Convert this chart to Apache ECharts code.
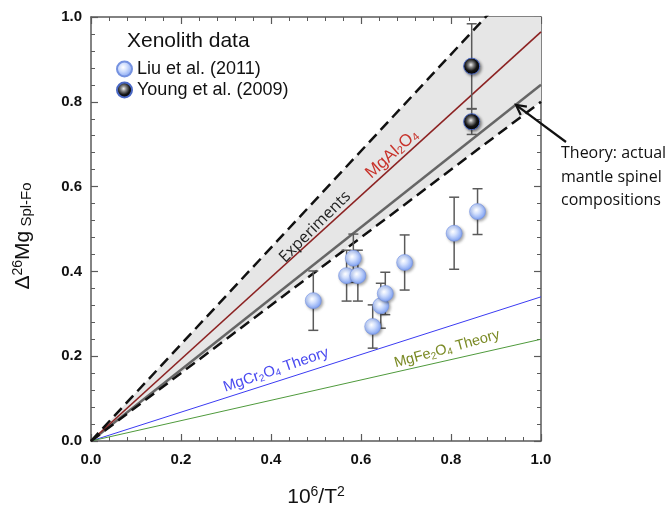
<!DOCTYPE html>
<html>
<head>
<meta charset="utf-8">
<script src="https://cdn.jsdelivr.net/npm/echarts@6/dist/echarts.min.js"></script>
<style>
html,body{margin:0;padding:0;background:#fff;}
#c{width:671px;height:513px;}
</style>
</head>
<body>
<div id="c"></div>
<script>
// ---- data ----
var lineX = [0, 1];
var upperDashed = [0, 1.14];
var lowerDashed = [0, 0.80];
var mgAl2O4 = [0, 0.965];
var mantleTheory = [0, 0.84];
var mgCr2O4 = [0, 0.34];
var mgFe2O4 = [0, 0.24];

var liuX = [0.494, 0.568, 0.583, 0.593, 0.626, 0.644, 0.654, 0.697, 0.807, 0.859];
var liuY = [0.331, 0.390, 0.431, 0.390, 0.270, 0.319, 0.348, 0.421, 0.490, 0.541];
var liuErr = [0.070, 0.060, 0.057, 0.060, 0.051, 0.053, 0.050, 0.065, 0.085, 0.054];

var youngX = [0.846, 0.846];
var youngY = [0.884, 0.753];
var youngErr = [0.10, 0.03];

var xTickLabels = ['0.0', '0.2', '0.4', '0.6', '0.8', '1.0'];
var yTickLabels = ['0.0', '0.2', '0.4', '0.6', '0.8', '1.0'];

// ---- helpers ----
function pairs(xs, ys) { return xs.map(function (x, i) { return [x, ys[i]]; }); }
function triples(xs, ys, es) { return xs.map(function (x, i) { return [x, ys[i], es[i]]; }); }

var chart = echarts.init(document.getElementById('c'), null, { renderer: 'canvas' });

var axisCol = '#5a5a5a';
function tickFmt(labels) {
  return function (v) { var i = Math.round(v / 0.2); return labels[i] !== undefined ? labels[i] : ''; };
}
function baseAxis(extra) {
  var a = {
    type: 'value', min: 0, max: 1, interval: 0.2,
    axisLine: { show: true, onZero: false, lineStyle: { color: axisCol, width: 1.5 } },
    axisTick: { show: true, inside: true, length: 7, lineStyle: { color: axisCol, width: 1.2 } },
    minorTick: { show: true, splitNumber: 5, length: 4, lineStyle: { color: axisCol, width: 1 } },
    splitLine: { show: false },
    minorSplitLine: { show: false }
  };
  for (var k in extra) a[k] = extra[k];
  return a;
}

var blueGrad = {
  type: 'radial', x: 0.42, y: 0.4, r: 0.62,
  colorStops: [
    { offset: 0, color: '#ffffff' },
    { offset: 0.4, color: '#d0defd' },
    { offset: 1, color: '#7b9ef2' }
  ]
};
var blackGrad = {
  type: 'radial', x: 0.45, y: 0.42, r: 0.6,
  colorStops: [
    { offset: 0, color: '#f4f4f4' },
    { offset: 0.25, color: '#8a8a8a' },
    { offset: 0.6, color: '#151515' },
    { offset: 1, color: '#000000' }
  ]
};

function errRender(params, api) {
  var x = api.value(0), y = api.value(1), e = api.value(2);
  var t = api.coord([x, y + e]), b = api.coord([x, y - e]);
  var hw = 5;
  var st = { stroke: '#5a5a5a', lineWidth: 1.5 };
  return {
    type: 'group',
    children: [
      { type: 'line', shape: { x1: t[0], y1: t[1], x2: b[0], y2: b[1] }, style: st },
      { type: 'line', shape: { x1: t[0] - hw, y1: t[1], x2: t[0] + hw, y2: t[1] }, style: st },
      { type: 'line', shape: { x1: b[0] - hw, y1: b[1], x2: b[0] + hw, y2: b[1] }, style: st }
    ]
  };
}

// shaded band between the two dashed experimental bounds
function bandRender(params, api) {
  if (params.dataIndex !== 0) return null;
  var pts = [];
  for (var i = 0; i < lineX.length; i++) pts.push(api.coord([lineX[i], upperDashed[i]]));
  for (var j = lineX.length - 1; j >= 0; j--) pts.push(api.coord([lineX[j], lowerDashed[j]]));
  var cs = params.coordSys;
  return {
    type: 'group',
    clipPath: { type: 'rect', shape: { x: cs.x, y: cs.y, width: cs.width, height: cs.height } },
    children: [{ type: 'polygon', shape: { points: pts }, style: { fill: '#e6e6e6', stroke: null } }]
  };
}

function simpleLine(name, ys, color, width, type, z) {
  return {
    name: name, type: 'line', data: pairs(lineX, ys), symbol: 'none', silent: true,
    lineStyle: { color: color, width: width, type: type }, z: z, clip: true,
    emphasis: { disabled: true }
  };
}

var option = {
  animation: false,
  backgroundColor: '#ffffff',
  grid: { left: 91, right: 130, top: 17, bottom: 72 },
  xAxis: [
    baseAxis({
      position: 'bottom',
      axisLabel: { show: true, margin: 11, formatter: tickFmt(xTickLabels), color: '#111',
        fontFamily: 'Liberation Sans', fontWeight: 'bold', fontSize: 15 }
    }),
    baseAxis({ position: 'top', axisLabel: { show: false } })
  ],
  yAxis: [
    baseAxis({
      position: 'left',
      axisLabel: { show: true, margin: 9, formatter: tickFmt(yTickLabels), color: '#111',
        fontFamily: 'Liberation Sans', fontWeight: 'bold', fontSize: 15 }
    }),
    baseAxis({ position: 'right', axisLabel: { show: false } })
  ],
  legend: {
    orient: 'vertical', left: 111, top: 55, itemWidth: 15, itemHeight: 15, itemGap: 3,
    icon: 'circle',
    data: ['Liu et al. (2011)', 'Young et al. (2009)'],
    textStyle: { fontFamily: 'Liberation Sans', fontSize: 18, color: '#111' }
  },
  series: [
    {
      name: 'band', type: 'custom', renderItem: bandRender, data: [[0, 0]],
      silent: true, z: 1
    },
    simpleLine('MgCr2O4', mgCr2O4, '#3b3bf2', 1, 'solid', 2),
    simpleLine('MgFe2O4', mgFe2O4, '#4f9a3c', 1, 'solid', 2),
    simpleLine('theory', mantleTheory, '#666666', 2.5, 'solid', 3),
    simpleLine('MgAl2O4', mgAl2O4, '#8c2222', 1.6, 'solid', 3),
    simpleLine('upper', upperDashed, '#111111', 2.5, [11, 6], 3),
    simpleLine('lower', lowerDashed, '#111111', 2.5, [11, 6], 3),
    {
      name: 'liuErr', type: 'custom', renderItem: errRender, data: triples(liuX, liuY, liuErr),
      z: 4, silent: true, clip: true
    },
    {
      name: 'youngErr', type: 'custom', renderItem: errRender, data: triples(youngX, youngY, youngErr),
      z: 4, silent: true, clip: true
    },
    {
      name: 'Liu et al. (2011)', type: 'scatter', data: pairs(liuX, liuY), symbolSize: 16, z: 5,
      itemStyle: { color: blueGrad, borderColor: '#7592e0', borderWidth: 0.6,
        shadowBlur: 3, shadowColor: 'rgba(0,0,0,0.35)', shadowOffsetX: 1.5, shadowOffsetY: 1.5, opacity: 1 }
    },
    {
      name: 'Young et al. (2009)', type: 'scatter', data: pairs(youngX, youngY), symbolSize: 16, z: 5,
      itemStyle: { color: blackGrad, borderColor: '#4a68c4', borderWidth: 1,
        shadowBlur: 3, shadowColor: 'rgba(0,0,0,0.45)', shadowOffsetX: 1.5, shadowOffsetY: 1.5, opacity: 1 }
    }
  ],
  graphic: []
};

chart.setOption(option);

// ---- annotations ----
var deg = Math.PI / 180;
var g = [];
g.push({ type: 'text', left: 127, top: 31, style: { text: 'Xenolith data', fontFamily: 'Liberation Sans', fontSize: 21, fill: '#111' } });

g.push({ type: 'text', x: 315, y: 227, rotation: 45 * deg, z: 10,
  style: { text: 'Experiments', fontFamily: 'Open Sans', fontSize: 16, fill: '#222', align: 'center', verticalAlign: 'middle' } });

g.push({ type: 'text', x: 392, y: 154, rotation: 42 * deg, z: 10,
  style: { text: '{a|MgAl}{s|2}{a|O}{s|4}', align: 'center', verticalAlign: 'middle',
    rich: { a: { fontFamily: 'Liberation Sans', fontSize: 17, fill: '#c8332b' },
            s: { fontFamily: 'Liberation Sans', fontSize: 11, fill: '#c8332b', padding: [7, 0, 0, 0] } } } });

g.push({ type: 'text', x: 276, y: 370, rotation: 19 * deg, z: 10,
  style: { text: '{a|MgCr}{s|2}{a|O}{s|4}{a| Theory}', align: 'center', verticalAlign: 'middle',
    rich: { a: { fontFamily: 'Liberation Sans', fontSize: 15, fill: '#4a4af0' },
            s: { fontFamily: 'Liberation Sans', fontSize: 10, fill: '#4a4af0', padding: [7, 0, 0, 0] } } } });

g.push({ type: 'text', x: 447, y: 349, rotation: 15.5 * deg, z: 10,
  style: { text: '{a|MgFe}{s|2}{a|O}{s|4}{a| Theory}', align: 'center', verticalAlign: 'middle',
    rich: { a: { fontFamily: 'Liberation Sans', fontSize: 14.5, fill: '#7a8a24' },
            s: { fontFamily: 'Liberation Sans', fontSize: 10, fill: '#7a8a24', padding: [7, 0, 0, 0] } } } });

g.push({ type: 'text', left: 561, top: 142, z: 10,
  style: { text: 'Theory: actual\nmantle spinel\ncompositions', fontFamily: 'Open Sans', fontSize: 16, lineHeight: 23.5, fill: '#111' } });

// arrow
var tail = [566, 142], head = [516, 105];
var dx = tail[0] - head[0], dy = tail[1] - head[1], L = Math.sqrt(dx * dx + dy * dy);
var ux = dx / L, uy = dy / L, al = 11, aa = 28 * deg;
function rot(x, y, a) { return [x * Math.cos(a) - y * Math.sin(a), x * Math.sin(a) + y * Math.cos(a)]; }
var p1 = rot(ux, uy, aa), p2 = rot(ux, uy, -aa);
g.push({ type: 'line', z: 10, shape: { x1: tail[0], y1: tail[1], x2: head[0] + ux * 1.5, y2: head[1] + uy * 1.5 }, style: { stroke: '#111', lineWidth: 2.2 } });
g.push({ type: 'polyline', z: 10, shape: { points: [[head[0] + p1[0] * al, head[1] + p1[1] * al], head, [head[0] + p2[0] * al, head[1] + p2[1] * al]] },
  style: { stroke: '#111', lineWidth: 2.2, fill: null } });

// axis titles
g.push({ type: 'text', x: 316, y: 497, z: 10,
  style: { text: '{a|10}{s|6}{a|/T}{s|2}', align: 'center', verticalAlign: 'middle',
    rich: { a: { fontFamily: 'Liberation Sans', fontSize: 21, fill: '#111' },
            s: { fontFamily: 'Liberation Sans', fontSize: 14, fill: '#111', padding: [0, 0, 9, 0] } } } });

g.push({ type: 'text', x: 23, y: 236, rotation: 90 * deg, z: 10,
  style: { text: '{a|Δ}{s|26}{a|Mg}{b| Spl-Fo}', align: 'center', verticalAlign: 'middle',
    rich: { a: { fontFamily: 'Liberation Sans', fontSize: 21, fill: '#111' },
            s: { fontFamily: 'Liberation Sans', fontSize: 14, fill: '#111', padding: [0, 0, 9, 0] },
            b: { fontFamily: 'Liberation Sans', fontSize: 15, fill: '#111', padding: [8, 0, 0, 0] } } } });

chart.setOption({ graphic: g });
</script>
</body>
</html>
